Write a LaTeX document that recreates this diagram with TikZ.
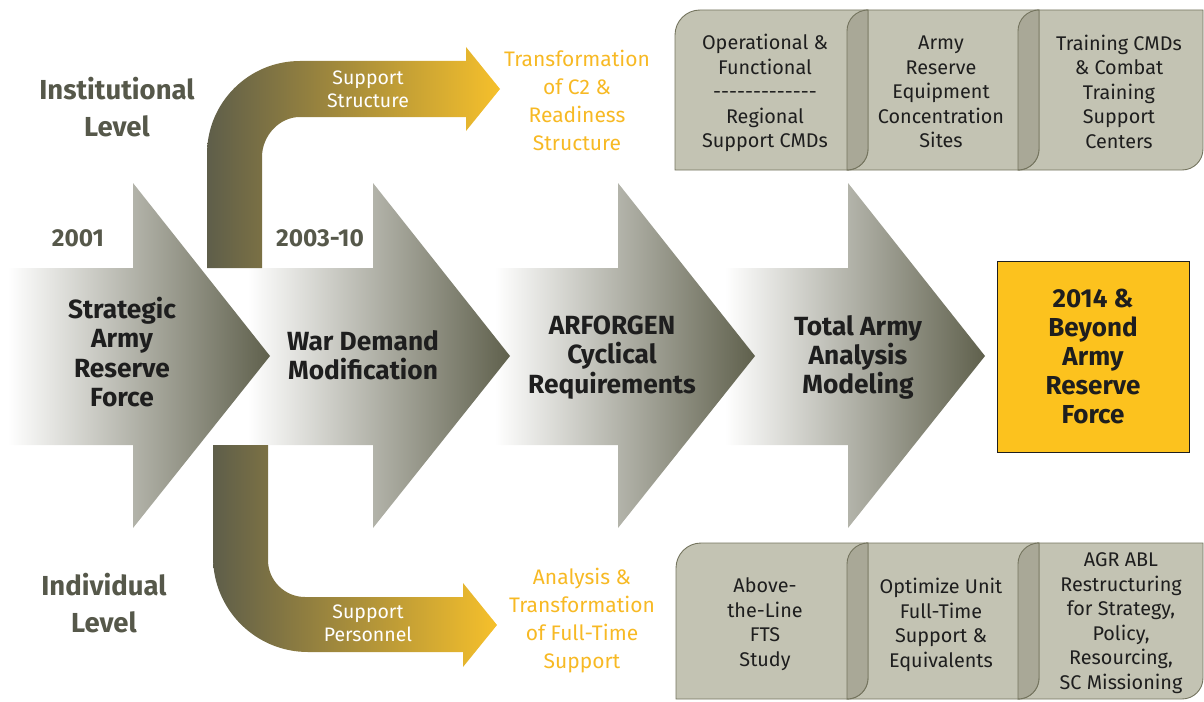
\documentclass[tikz,border=0pt]{standalone}
\usepackage{fontspec}
\setmainfont{Fira Sans}
\definecolor{boxfill}{HTML}{C3C3B3}
\definecolor{boxline}{HTML}{74745E}
\definecolor{lensfill}{HTML}{A9A897}
\definecolor{olive}{HTML}{5E5E4A}
\definecolor{arrowmid}{HTML}{ABAB99}
\definecolor{arrowdark}{HTML}{5F604C}
\definecolor{gold}{HTML}{F6C02B}
\definecolor{goldmid}{HTML}{9E915F}
\definecolor{ytext}{HTML}{F7B924}
\definecolor{ybox}{HTML}{FCC21E}
\definecolor{dlabel}{HTML}{56584A}
\definecolor{ink}{HTML}{1E1E1E}
% tab box: x0, x1, y0, y1, top-left radius, control offset
\newcommand\tabshape[6]{(#1,#4) -- (#1,#3+#5) .. controls (#1,#3+#6) and (#1+#6,#3) .. (#1+#5,#3) -- (#2,#3) -- (#2,#4-21) .. controls (#2,#4-9.4) and (#2-9.4,#4) .. (#2-21,#4) -- cycle}
\newcommand\lensshape[4]{(#2,#3) -- (#2,#4-21) .. controls (#2,#4-9.4) and (#2-9.4,#4) .. (#1,#4) -- (#1,#3+21) .. controls (#1,#3+9.4) and (#1+9.4,#3) .. (#2,#3) -- cycle}
\newcommand\mainarrow[3]{(#1,268) -- (#2,268) -- (#2,183) -- (#3,356) -- (#2,528) -- (#2,445) -- (#1,445) -- cycle}
\begin{document}
\begin{tikzpicture}[x=1pt,y=-1pt,
  mainarr/.style={left color=white, middle color=arrowmid, right color=arrowdark, draw=none},
  curvarr/.style={left color=olive, middle color=goldmid, right color=gold, draw=none},
  tab/.style={fill=boxfill, draw=boxline, line width=0.9pt},
  lens/.style={fill=lensfill, draw=boxline, line width=0.9pt},
  boxtxt/.style={font=\fontsize{19.8}{24.5}\selectfont, text=ink, align=center, inner sep=0pt},
  steptxt/.style={font=\bfseries\fontsize{26.3}{29.3}\selectfont, text=ink, align=center, inner sep=0pt},
  leveltxt/.style={font=\bfseries\fontsize{27.5}{37}\selectfont, text=dlabel, align=center, inner sep=0pt},
  yeartxt/.style={font=\bfseries\fontsize{24.5}{26}\selectfont, text=dlabel, inner sep=0pt},
  goldtxt/.style={font=\fontsize{21}{28}\selectfont, text=ytext, align=center, inner sep=0pt},
  whitetxt/.style={font=\fontsize{19.5}{22.5}\selectfont, text=white, align=center, inner sep=0pt}]
\useasboundingbox (0,0) rectangle (1204,701);

% main arrows (drawn right to left so earlier tips lie on top)
\shade[mainarr] \mainarrow{725}{848}{985};
\shade[mainarr] \mainarrow{495}{618}{755};
\shade[mainarr] \mainarrow{248}{373}{510};
\shade[mainarr] \mainarrow{8}{133}{270};

% curved support arrows
\shade[curvarr] (207,268) -- (207,154) .. controls (207,102.6) and (248.6,61) .. (300,61)
  -- (466,61) -- (466,47) -- (500,89) -- (466,131) -- (466,117) -- (300,117)
  .. controls (279,117) and (262,136) .. (262,157) -- (262,268) -- cycle;
\shade[curvarr] (213,445) -- (213,557) .. controls (213,609.5) and (255.5,652) .. (308,652)
  -- (463,652) -- (463,667) -- (497,625) -- (463,583) -- (463,597) -- (305,597)
  .. controls (284.6,597) and (268,580.4) .. (268,560) -- (268,445) -- cycle;

% final yellow box
\node[draw=ink, line width=1pt, fill=ybox, minimum width=192pt, minimum height=191pt, inner sep=0pt,
  font=\bfseries\fontsize{26}{29.2}\selectfont, text=ink, align=center] (final) at (1093,356.5)
  {2014 \&\\Beyond\\Army\\Reserve\\Force};

% top row tabs
\draw[tab] \tabshape{1018}{1203}{10}{170}{21}{9.4};
\draw[tab] \tabshape{847}{1039}{10}{170}{21}{9.4};
\draw[tab] \tabshape{675}{868}{10}{170}{25}{11.2};
\draw[lens] \lensshape{847}{868}{10}{170};
\draw[lens] \lensshape{1018}{1039}{10}{170};
% bottom row tabs
\draw[tab] \tabshape{1018}{1203}{543}{699}{21}{9.4};
\draw[tab] \tabshape{847}{1039}{543}{699}{21}{9.4};
\draw[tab] \tabshape{676}{868}{543}{699}{25}{11.2};
\draw[lens] \lensshape{847}{868}{543}{699};
\draw[lens] \lensshape{1018}{1039}{543}{699};

% tab texts
\node[boxtxt] (t1) at (765,93) {Operational \&\\Functional\\-{}-{}-{}-{}-{}-{}-{}-{}-{}-{}-{}-{}-\\Regional\\Support CMDs};
\node[boxtxt] (t2) at (941,92) {Army\\Reserve\\Equipment\\Concentration\\Sites};
\node[boxtxt] (t3) at (1119,91.5) {Training CMDs\\\& Combat\\Training\\Support\\Centers};
\node[boxtxt] (b1) at (765,624) {Above-\\the-Line\\FTS\\Study};
\node[boxtxt] (b2) at (941,625) {Optimize Unit\\Full-Time\\Support \&\\Equivalents};
\node[boxtxt] (b3) at (1121,623) {AGR ABL\\Restructuring\\for Strategy,\\Policy,\\Resourcing,\\SC Missioning};

% step labels
\node[steptxt] (s1) at (122,352) {Strategic\\Army\\Reserve\\Force};
\node[steptxt] (s2) at (363,355) {War Demand\\Modification};
\node[steptxt] (s3) at (612,357.5) {ARFORGEN\\Cyclical\\Requirements};
\node[steptxt] (s4) at (858,357.5) {Total Army\\Analysis\\Modeling};

% levels and years
\node[leveltxt] (inst) at (117,107.5) {Institutional\\Level};
\node[leveltxt] (indiv) at (104,603.5) {Individual\\Level};
\node[yeartxt] (y1) at (78,238) {2001};
\node[yeartxt] (y2) at (320,238) {2003-10};

% support arrow labels
\node[whitetxt] (ss) at (368,89.5) {Support\\Structure};
\node[whitetxt] (sp) at (368,623.5) {Support\\Personnel};

% gold outcome texts
\node[goldtxt] (g1) at (577,100) {Transformation\\of C2 \&\\Readiness\\Structure};
\node[goldtxt] (g2) at (582,621) {Analysis \&\\Transformation\\of Full-Time\\Support};
\end{tikzpicture}
\end{document}
